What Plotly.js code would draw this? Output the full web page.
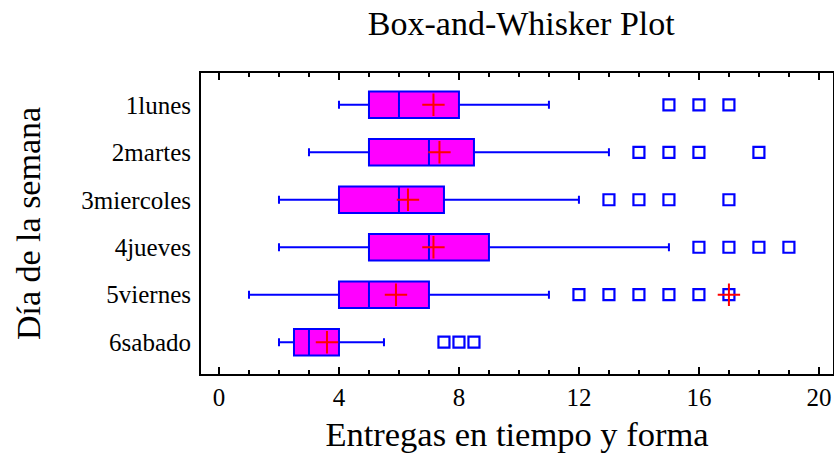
<!DOCTYPE html>
<html><head><meta charset="utf-8">
<script src="https://cdn.plot.ly/plotly-3.0.1.min.js"></script>
<style>html,body{margin:0;padding:0;background:#fff}</style>
</head><body>
<div id="chart" style="width:834px;height:455px"></div>
<script>
const days = ["1lunes","2martes","3miercoles","4jueves","5viernes","6sabado"];
const lowerWhisker = [4, 3, 2, 2, 1, 2];
const q1 = [5, 5, 4, 5, 4, 2.5];
const median = [6, 7, 6, 7, 5, 3];
const q3 = [8, 8.5, 7.5, 9, 7, 4];
const upperWhisker = [11, 13, 12, 15, 11, 5.5];
const means = [7.15, 7.35, 6.3, 7.15, 5.9, 3.6];
const outliers = [
  [15, 16, 17],
  [14, 15, 16, 18],
  [13, 14, 15, 17],
  [16, 17, 18, 19],
  [12, 13, 14, 15, 16, 17],
  [7.5, 8, 8.5]
];
const farOutDay = ["5viernes"];
const farOutValue = [17];

const outX = [], outY = [];
outliers.forEach((arr, i) => arr.forEach(v => { outX.push(v); outY.push(days[i]); }));

const font = "Liberation Serif, Times New Roman, serif";
const traces = [
  {
    type: "box", orientation: "h", y: days,
    q1: q1, median: median, q3: q3,
    lowerfence: lowerWhisker, upperfence: upperWhisker,
    boxpoints: false, fillcolor: "#FF00FF",
    line: {color: "#0000FF", width: 2}, whiskerwidth: 0.3,
    hoverinfo: "skip", showlegend: false
  },
  {
    type: "scatter", mode: "markers", x: outX, y: outY,
    marker: {symbol: "square-open", size: 11, color: "#0000FF", line: {width: 2.2, color: "#0000FF"}},
    showlegend: false
  },
  {
    type: "scatter", mode: "markers", x: means, y: days,
    marker: {symbol: "cross-thin-open", size: 16, color: "#FF0000", line: {width: 2, color: "#FF0000"}},
    showlegend: false
  },
  {
    type: "scatter", mode: "markers", x: farOutValue, y: farOutDay,
    marker: {symbol: "cross-thin-open", size: 16, color: "#FF0000", line: {width: 2, color: "#FF0000"}},
    showlegend: false
  }
];

const layout = {
  width: 834, height: 455,
  margin: {l: 201, r: 1, t: 73, b: 81},
  paper_bgcolor: "#fff", plot_bgcolor: "#fff",
  font: {family: font, color: "#000"},
  showlegend: false,
  boxgap: 0.2,
  title: {text: "Box-and-Whisker Plot", font: {family: font, size: 34, color: "#000"},
          x: 0.625, xref: "container", xanchor: "center", y: 0.95, yref: "container", yanchor: "middle"},
  xaxis: {
    range: [-0.6, 20.47], dtick: 4, tick0: 0,
    ticks: "inside", ticklen: 7, tickwidth: 2, tickcolor: "#000",
    minor: {dtick: 1, ticks: "inside", ticklen: 4, tickwidth: 1.5, tickcolor: "#000"},
    showline: true, linewidth: 2, linecolor: "#000", mirror: "ticks",
    showgrid: false, zeroline: false,
    tickfont: {family: font, size: 25, color: "#000"},
    title: {text: "Entregas en tiempo y forma", font: {family: font, size: 34.5, color: "#000"}, standoff: 12}
  },
  yaxis: {
    type: "category", categoryorder: "array", categoryarray: days,
    range: [5.67, -0.67],
    ticks: "", showline: true, linewidth: 2, linecolor: "#000", mirror: true,
    showgrid: false, zeroline: false, ticklabelstandoff: 3,
    tickfont: {family: font, size: 25, color: "#000"},
    title: {text: "Día de la semana", font: {family: font, size: 34, color: "#000"}, standoff: 30}
  }
};
Plotly.newPlot("chart", traces, layout, {displayModeBar: false, staticPlot: true});
</script>
</body></html>
